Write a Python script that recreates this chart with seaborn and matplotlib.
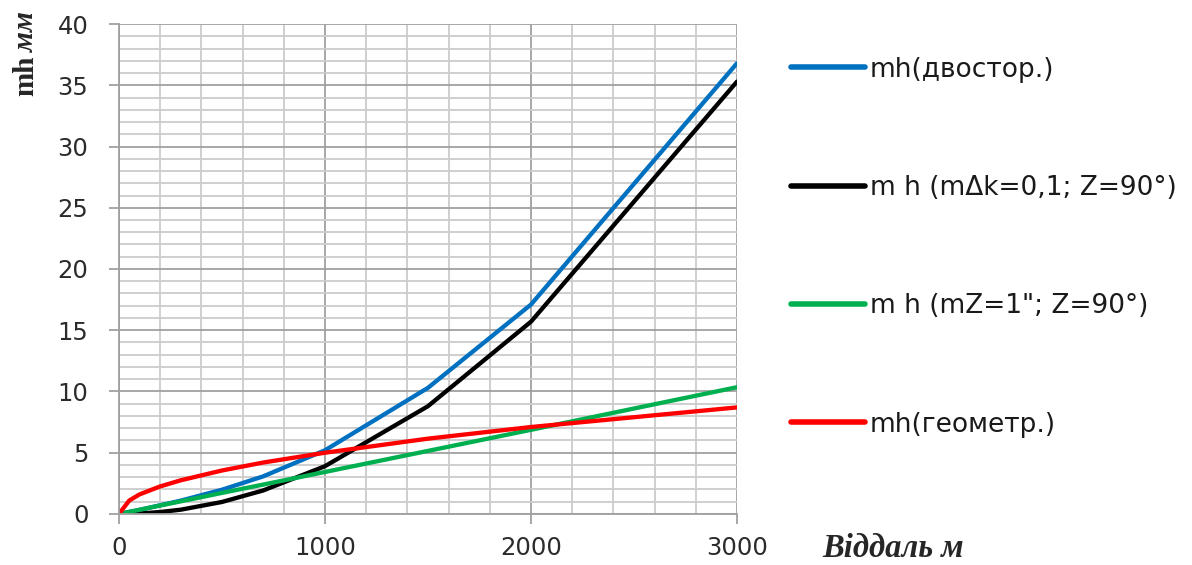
import matplotlib
matplotlib.use("Agg")
import matplotlib.pyplot as plt
from matplotlib.ticker import MultipleLocator
import numpy as np
import pandas as pd
import seaborn as sns

# Distance along the line, m
distance = [0, 50, 100, 200, 300, 500, 700, 1000, 1500, 2000, 3000]

# Height error, mm
mh_two_way = [0, 0.17, 0.34, 0.71, 1.09, 1.98, 3.07, 5.2, 10.3, 17.1, 36.8]
mh_refraction = [0, 0.01, 0.04, 0.16, 0.35, 0.98, 1.92, 3.9, 8.8, 15.7, 35.3]
mh_zenith = [0, 0.17, 0.34, 0.69, 1.03, 1.72, 2.4, 3.43, 5.15, 6.87, 10.35]
mh_geometric = [0, 1.1, 1.6, 2.25, 2.75, 3.55, 4.2, 5.0, 6.15, 7.1, 8.7]

series_names = [
    "mh(двостор.)",
    "m h (mΔk=0,1; Z=90°)",
    "m h (mZ=1\"; Z=90°)",
    "mh(геометр.)",
]
series_values = [mh_two_way, mh_refraction, mh_zenith, mh_geometric]
series_colors = ["#0070C0", "#000000", "#00B050", "#FF0000"]

df = pd.concat(
    [pd.DataFrame({"distance": distance, "mh": vals, "series": name})
     for name, vals in zip(series_names, series_values)],
    ignore_index=True,
)

sns.set_theme(style="white")
plt.rcParams["font.family"] = ["DejaVu Sans"]

fig = plt.figure(figsize=(11.92, 5.65), dpi=100)
ax = fig.add_axes([0.0998, 0.0903, 0.5185, 0.8672])

sns.lineplot(
    data=df, x="distance", y="mh", hue="series", hue_order=series_names,
    palette=dict(zip(series_names, series_colors)), linewidth=3.1,
    ax=ax, legend=True, sort=False,
)
for line in ax.get_lines():
    line.set_solid_capstyle("round")
    line.set_solid_joinstyle("round")

ax.set_xlim(0, 3000)
ax.set_ylim(0, 40)
ax.xaxis.set_major_locator(MultipleLocator(1000))
ax.xaxis.set_minor_locator(MultipleLocator(200))
ax.yaxis.set_major_locator(MultipleLocator(5))
ax.yaxis.set_minor_locator(MultipleLocator(1))

ax.grid(which="minor", color="#cccccc", linewidth=1.3)
ax.grid(which="major", color="#a0a0a0", linewidth=1.3)
ax.set_axisbelow(True)

for side in ["top", "right"]:
    ax.spines[side].set_visible(False)
for side in ["left", "bottom"]:
    ax.spines[side].set_color("#a0a0a0")
    ax.spines[side].set_linewidth(1.3)

ax.tick_params(which="major", direction="out", length=7, width=1.3,
               color="#a0a0a0", labelsize=17.5, labelcolor="#2b2b2b",
               left=True, bottom=True)
ax.tick_params(axis="x", which="major", pad=9)
ax.tick_params(axis="y", which="major", pad=15)
ax.tick_params(which="minor", length=0)
ax.set_xlabel("")
ax.set_ylabel("")

handles, labels = ax.get_legend_handles_labels()
leg = ax.legend(
    handles, labels, loc="upper left", bbox_to_anchor=(1.07, 0.955),
    frameon=False, fontsize=19, handlelength=2.8, handletextpad=0.2,
    labelspacing=3.5, borderaxespad=0,
)
for line in leg.get_lines():
    line.set_linewidth(4)
for text in leg.get_texts():
    text.set_color("#1a1a1a")

# Axis titles
fig.text(0.022, 0.866, "mh", rotation=90, ha="center", va="center",
         fontsize=21, fontweight="bold", family="Liberation Serif")
fig.text(0.022, 0.944, "мм", rotation=90, ha="center", va="center",
         fontsize=21, fontweight="bold", style="italic", family="Liberation Serif")
fig.text(0.690, 0.030, "Віддаль м", ha="left", va="center",
         fontsize=23.5, fontweight="bold", style="italic", family="Liberation Serif")

fig.savefig("out.png", dpi=100)
